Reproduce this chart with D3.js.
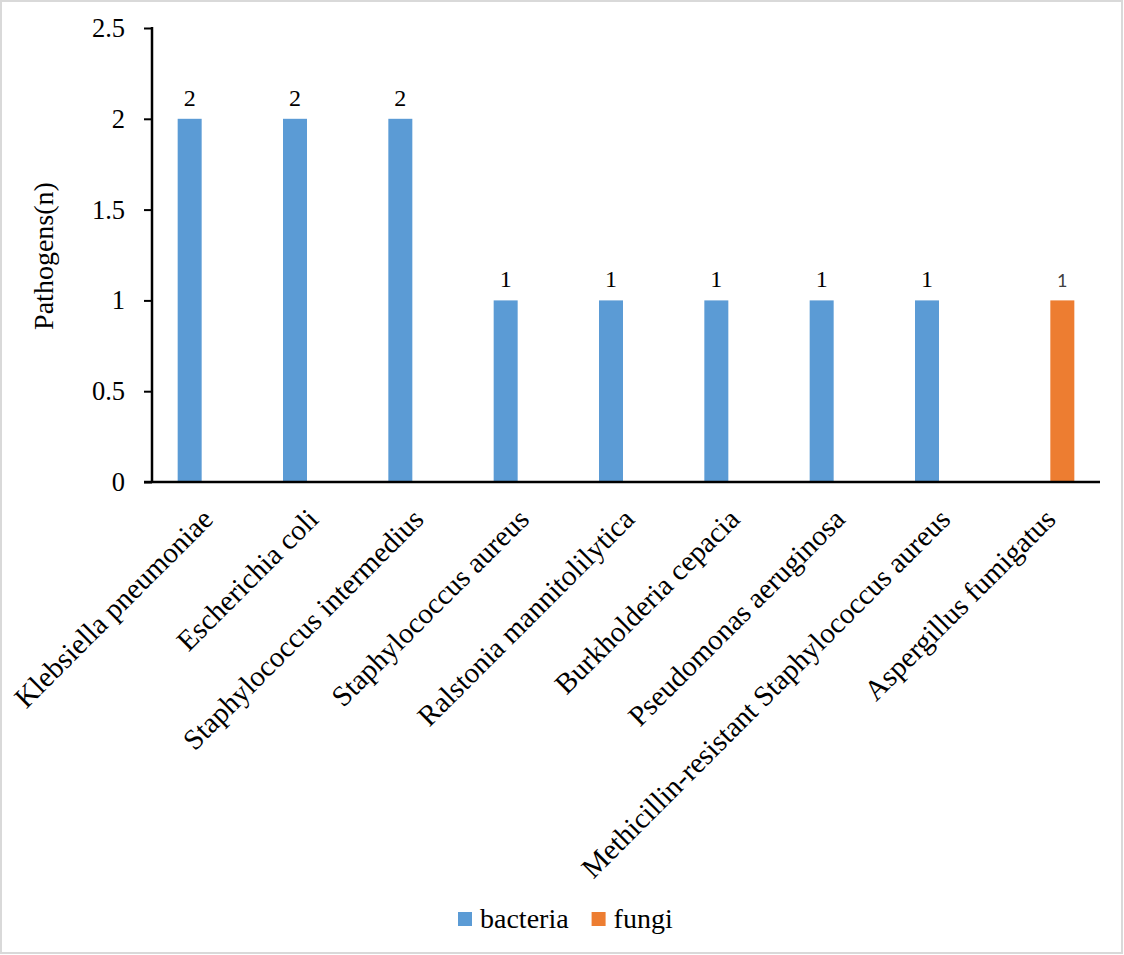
<!DOCTYPE html>
<html>
<head>
<meta charset="utf-8">
<script src="https://cdn.jsdelivr.net/npm/d3@7"></script>
<style>
    body { margin: 0; background: #fff; }
    svg { display: block; }
</style>
</head>
<body>
<div id="chart"></div>
<script>
// chart data
const categories = [
    'Klebsiella pneumoniae',
    'Escherichia coli',
    'Staphylococcus intermedius',
    'Staphylococcus aureus',
    'Ralstonia mannitolilytica',
    'Burkholderia cepacia',
    'Pseudomonas aeruginosa',
    'Methicillin-resistant Staphylococcus aureus',
    'Aspergillus fumigatus'
];
const seriesNames = ['bacteria', 'fungi'];
const bacteria = [2, 2, 2, 1, 1, 1, 1, 1, 0];
const fungi = [0, 0, 0, 0, 0, 0, 0, 0, 1];
const yTicks = [0, 0.5, 1, 1.5, 2, 2.5];

const width = 1124;
const height = 955;
const serif = '"Liberation Serif", "Times New Roman", serif';
const colors = { bacteria: '#5B9BD5', fungi: '#ED7D31' };

const svg = d3.select('#chart')
    .append('svg')
    .attr('width', width)
    .attr('height', height);

// outer frame
svg.append('rect')
    .attr('x', 1).attr('y', 1)
    .attr('width', width - 3).attr('height', height - 3)
    .attr('fill', '#fff')
    .attr('stroke', '#d9d9d9')
    .attr('stroke-width', 2);

const plot = { left: 152, right: 1100, top: 28, bottom: 482 };

const x = d3.scaleBand()
    .domain(categories)
    .range([plot.left, plot.right]);

const xSeries = d3.scaleBand()
    .domain(seriesNames)
    .range([-27, 27])
    .paddingInner(0.2);

const y = d3.scaleLinear()
    .domain([0, 2.5])
    .range([plot.bottom, plot.top]);

// bars
const rows = [];
categories.forEach((c, i) => {
    rows.push({ cat: c, series: 'bacteria', value: bacteria[i] });
    rows.push({ cat: c, series: 'fungi', value: fungi[i] });
});
const shown = rows.filter(d => d.value > 0);

svg.append('g')
    .selectAll('rect')
    .data(shown)
    .enter()
    .append('rect')
    .attr('x', d => x(d.cat) + x.bandwidth() / 2 + xSeries(d.series))
    .attr('y', d => y(d.value))
    .attr('width', xSeries.bandwidth())
    .attr('height', d => y(0) - y(d.value))
    .attr('fill', d => colors[d.series]);

// data labels
svg.append('g')
    .selectAll('text')
    .data(shown)
    .enter()
    .append('text')
    .attr('x', d => x(d.cat) + x.bandwidth() / 2 + xSeries(d.series) + xSeries.bandwidth() / 2)
    .attr('y', d => y(d.value) - 13)
    .attr('text-anchor', 'middle')
    .attr('font-family', d => d.series === 'fungi' ? 'Lato, "Open Sans", sans-serif' : serif)
    .attr('font-size', d => d.series === 'fungi' ? 18 : 24)
    .attr('fill', d => d.series === 'fungi' ? '#404040' : '#000')
    .text(d => d.value);

// y axis
const yAxis = svg.append('g')
    .attr('transform', `translate(${plot.left},0)`)
    .call(d3.axisLeft(y).tickValues(yTicks).tickSize(8).tickPadding(19).tickFormat(d3.format('')));
yAxis.select('.domain').remove();
yAxis.selectAll('line').attr('stroke', '#000').attr('stroke-width', 2);
yAxis.selectAll('text')
    .attr('font-family', serif)
    .attr('font-size', 26.5)
    .attr('fill', '#000');
svg.append('line')
    .attr('x1', plot.left).attr('x2', plot.left)
    .attr('y1', plot.top - 1).attr('y2', plot.bottom + 1)
    .attr('stroke', '#000').attr('stroke-width', 2.5);

// x axis
svg.append('line')
    .attr('x1', plot.left - 8).attr('x2', plot.right)
    .attr('y1', plot.bottom).attr('y2', plot.bottom)
    .attr('stroke', '#000').attr('stroke-width', 2.5);

svg.append('g')
    .selectAll('text')
    .data(categories)
    .enter()
    .append('text')
    .attr('transform', d => `translate(${x(d) + x.bandwidth() / 2 + 10},${plot.bottom + 39}) rotate(-45)`)
    .attr('text-anchor', 'end')
    .attr('font-family', serif)
    .attr('font-size', 29)
    .attr('fill', '#000')
    .text(d => d);

// y title
svg.append('text')
    .attr('transform', 'translate(53,256) rotate(-90)')
    .attr('text-anchor', 'middle')
    .attr('font-family', serif)
    .attr('font-size', 28)
    .attr('fill', '#000')
    .text('Pathogens(n)');

// legend
const legend = svg.append('g')
    .attr('transform', 'translate(458,919)');
let lx = 0;
seriesNames.forEach(name => {
    legend.append('rect')
        .attr('x', lx).attr('y', -7)
        .attr('width', 14).attr('height', 14)
        .attr('fill', colors[name]);
    const t = legend.append('text')
        .attr('x', lx + 22).attr('y', 9)
        .attr('font-family', serif)
        .attr('font-size', 28)
        .attr('fill', '#000')
        .text(name);
    lx += 22 + t.node().getComputedTextLength() + 23;
});
</script>
</body>
</html>
